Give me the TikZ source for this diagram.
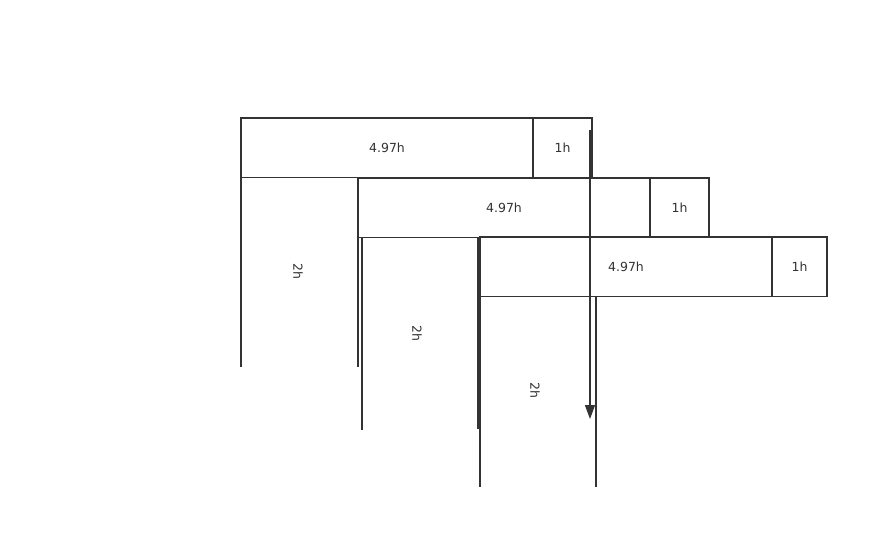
\documentclass[tikz,border=0pt]{standalone}
\usepackage{fontspec}
\setsansfont{DejaVu Sans}
\usetikzlibrary{positioning,arrows.meta}
\definecolor{ink}{HTML}{333333}

\begin{document}
\begin{tikzpicture}[x=1pt,y=-1pt,
  every node/.style={font=\sffamily\fontsize{12.5}{14}\selectfont,text=ink},
  task/.style={rectangle,draw=ink,line width=1.4pt,minimum height=59.5pt,
    inner sep=0pt,outer sep=0pt,anchor=north west},
  work/.style={task,minimum width=292pt},
  unit/.style={task,minimum width=59pt},
  rail/.style={draw=ink,line width=1.4pt},
  >={Triangle[length=14pt,width=10pt]}
]
\path[use as bounding box,fill=white] (0,0) rectangle (888,548);

% ROW 1
\node[work] (W1) at (241,118) {4.97h};
\node[unit] (U1) [right=0pt of W1] {1h};

% ROW 2
\node[work] (W2) at (358,178) {4.97h};
\node[unit] (U2) [right=0pt of W2] {1h};

% ROW 3
\node[work] (W3) at (480,237) {4.97h};
\node[unit,minimum width=55pt] (U3) [right=0pt of W3] {1h};

% 2h BLOCKS
\draw[rail] (W1.south west) -- ++(0,189);
\draw[rail] (W2.north west) -- ++(0,189);
\node[rotate=-90] (L1) at (298,271) {2h};

\draw[rail] ([xshift=4pt]W2.south west) -- ++(0,192);
\draw[rail] ([xshift=-2pt]W3.north west) -- ++(0,192);
\node[rotate=-90] (L2) at (417,333) {2h};

\draw[rail] (W3.south west) -- ++(0,190);
\draw[rail] ([xshift=116pt]W3.south west) -- ++(0,190);
\node[rotate=-90] (L3) at (535,390) {2h};

% ARROW
\coordinate (top) at (590,130);
\coordinate (bottom) at (590,419);
\draw[rail,->] (top) -- (bottom);

\end{tikzpicture}
\end{document}
